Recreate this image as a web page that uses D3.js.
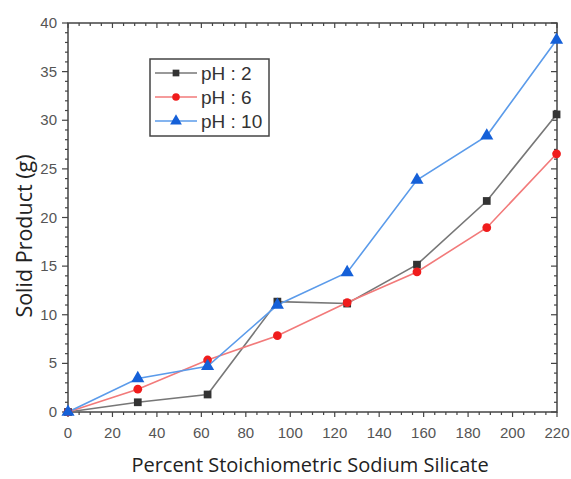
<!DOCTYPE html>
<html><head><meta charset="utf-8">
<script src="https://cdn.jsdelivr.net/npm/d3@7"></script>
<style>body{margin:0;background:#fff}svg{display:block}</style>
</head><body>
<svg id="c" width="571" height="479"></svg>
<script>
const xValues = [0, 31.4, 62.8, 94.2, 125.6, 157, 188.4, 219.8];
const ph2 = [0, 1.0, 1.8, 11.35, 11.15, 15.15, 21.7, 30.6];
const ph6 = [0, 2.35, 5.35, 7.85, 11.25, 14.4, 18.95, 26.55];
const ph10 = [0, 3.45, 4.7, 11.0, 14.35, 23.85, 28.4, 38.25];
const seriesNames = ["pH : 2", "pH : 6", "pH : 10"];
const xTicks = [0,20,40,60,80,100,120,140,160,180,200,220];
const yTicks = [0,5,10,15,20,25,30,35,40];

const series = [
  {name: seriesNames[0], values: ph2, color: "#777", mcolor: "#333", shape: d3.symbolSquare},
  {name: seriesNames[1], values: ph6, color: "#f27a7a", mcolor: "#f01c1c", shape: d3.symbolCircle},
  {name: seriesNames[2], values: ph10, color: "#5b9bea", mcolor: "#1560d8", shape: d3.symbolTriangle}
];

const L = 68, R = 557, T = 23, B = 412;
const svg = d3.select("#c");
const x = d3.scaleLinear().domain([0,220]).range([L,R]);
const y = d3.scaleLinear().domain([0,40]).range([B,T]);

const axCol = "#444";
svg.append("rect").attr("x",L).attr("y",T).attr("width",R-L).attr("height",B-T)
  .attr("fill","none").attr("stroke",axCol).attr("stroke-width",1.5);

const minorX = d3.range(0,221,5).filter(v=>v%20!==0);
const minorY = d3.range(0,41,1).filter(v=>v%5!==0);
const tg = svg.append("g").attr("stroke",axCol).attr("stroke-width",1.2);
xTicks.forEach(v=>{
  tg.append("line").attr("x1",x(v)).attr("x2",x(v)).attr("y1",B).attr("y2",B+5);
  tg.append("line").attr("x1",x(v)).attr("x2",x(v)).attr("y1",T).attr("y2",T+5);
});
minorX.forEach(v=>{
  tg.append("line").attr("x1",x(v)).attr("x2",x(v)).attr("y1",B).attr("y2",B+3);
  tg.append("line").attr("x1",x(v)).attr("x2",x(v)).attr("y1",T).attr("y2",T+3);
});
yTicks.forEach(v=>{
  tg.append("line").attr("y1",y(v)).attr("y2",y(v)).attr("x1",L).attr("x2",L-6);
  tg.append("line").attr("y1",y(v)).attr("y2",y(v)).attr("x1",R).attr("x2",R-6);
});
minorY.forEach(v=>{
  tg.append("line").attr("y1",y(v)).attr("y2",y(v)).attr("x1",L).attr("x2",L-3);
  tg.append("line").attr("y1",y(v)).attr("y2",y(v)).attr("x1",R).attr("x2",R-3);
});

const tickFont = "Liberation Sans, Arial, sans-serif";
svg.append("g").selectAll("text").data(xTicks).join("text")
  .attr("x",d=>x(d)).attr("y",438).attr("text-anchor","middle")
  .attr("font-family",tickFont).attr("font-size",15).attr("fill","#555").text(d=>d);
svg.append("g").selectAll("text").data(yTicks).join("text")
  .attr("x",57).attr("y",d=>y(d)+5).attr("text-anchor","end")
  .attr("font-family",tickFont).attr("font-size",15).attr("fill","#555").text(d=>d);

const line = d3.line().x((d,i)=>x(xValues[i])).y(d=>y(d));
series.forEach(s=>{
  svg.append("path").datum(s.values).attr("d",line).attr("fill","none")
    .attr("stroke",s.color).attr("stroke-width",1.6);
});
series.forEach(s=>{
  svg.append("g").selectAll("path").data(s.values).join("path")
    .attr("transform",(d,i)=>`translate(${x(xValues[i])},${y(d)})`)
    .attr("d",d3.symbol().type(s.shape).size(s.shape===d3.symbolTriangle?75:60))
    .attr("fill",s.mcolor);
});

const lg = svg.append("g");
lg.append("rect").attr("x",150).attr("y",59).attr("width",119).attr("height",77)
  .attr("fill","#fff").attr("stroke","#444").attr("stroke-width",1.5);
series.forEach((s,i)=>{
  const yy = 73 + i*24;
  lg.append("line").attr("x1",155).attr("x2",197).attr("y1",yy).attr("y2",yy)
    .attr("stroke",s.color).attr("stroke-width",1.5);
  lg.append("path").attr("transform",`translate(176,${yy})`)
    .attr("d",d3.symbol().type(s.shape).size(s.shape===d3.symbolTriangle?60:45)).attr("fill",s.mcolor);
  lg.append("text").attr("x",201).attr("y",yy+7).attr("font-family",tickFont)
    .attr("font-size",19).attr("fill","#333").text(s.name);
});

const titleFont = "Open Sans, Noto Sans, sans-serif";
svg.append("text").attr("x",310).attr("y",472).attr("text-anchor","middle")
  .attr("font-family",titleFont).attr("font-size",20).attr("fill","#222")
  .text("Percent Stoichiometric Sodium Silicate");
svg.append("text").attr("transform","translate(32,236) rotate(-90)").attr("text-anchor","middle")
  .attr("font-family",titleFont).attr("font-size",21.5).attr("fill","#222")
  .text("Solid Product (g)");
</script>
</body></html>
